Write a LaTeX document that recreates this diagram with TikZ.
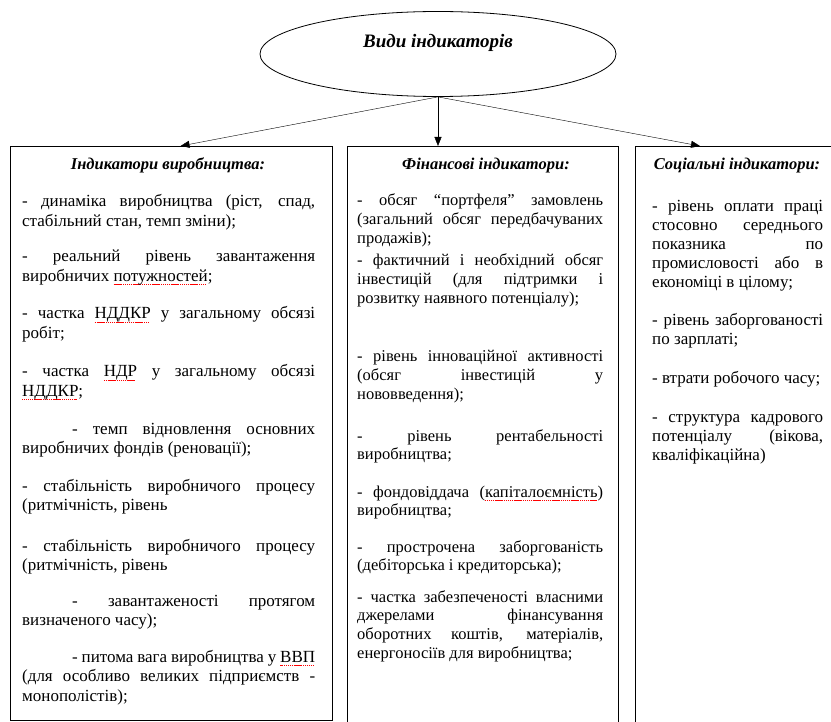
\documentclass[tikz,border=0pt]{standalone}
\usepackage{fontspec}
\setmainfont{Liberation Serif}
\usepackage{xcolor}
\usepackage{tikz}
\usetikzlibrary{shapes.geometric, arrows.meta}

% red spell-check underline
\newsavebox\typobox
\newcommand\typo[1]{\sbox\typobox{#1}\leavevmode\rlap{\textcolor{red}{\leaders\hbox{\rule[-3.5pt]{1.3pt}{0.8pt}\kern0.6pt}\hskip\wd\typobox}}\usebox\typobox}

\tikzset{
    panel/.style={draw, line width=1.1pt, anchor=north west, inner sep=0pt},
    oval/.style={draw, ellipse, line width=0.8pt, minimum width=356pt, minimum height=85pt},
    headtext/.style={font=\fontsize{16.5}{19}\selectfont\bfseries\itshape, anchor=base, inner sep=0pt},
    item/.style={anchor=base west, align=justify, inner sep=0pt},
    leftitem/.style={item, text width=293pt, font=\fontsize{17}{19.6}\selectfont},
    miditem/.style={item, text width=246pt, font=\fontsize{16.5}{18.7}\selectfont},
    rightitem/.style={item, text width=171pt, font=\fontsize{17}{19}\selectfont},
}

\begin{document}
\begin{tikzpicture}[x=1pt, y=-1pt, >={Triangle[length=9pt, width=7pt]}]
        \useasboundingbox (0,0) rectangle (831,722);

        \node[oval] at (438, 54) (kinds) {};
        \node[headtext, font=\fontsize{19}{22}\selectfont\bfseries\itshape] at (438, 48) (kindstxt) {Види індикаторів};

        \node[panel, minimum width=322pt, minimum height=574pt] at (10, 146) (prod) {};
        \node[panel, minimum width=271pt, minimum height=590pt] at (347, 146) (fin) {};
        \node[panel, minimum width=200pt, minimum height=590pt] at (635, 146) (soc) {};

        \draw[->] (kinds.south) -- ([xshift=9pt]prod.north);
        \draw[->] (kinds.south) -- (kinds.south |- fin.north);
        \draw[->] (kinds.south) -- ([xshift=65pt]soc.north west);

        % production
        \node[headtext] at (168, 170) (prodhead) {Індикатори виробництва:};
        \node[leftitem] at (22, 207) (p1) {- динаміка виробництва (ріст, спад,\linebreak стабільний стан, темп зміни);};
        \node[leftitem] at (22, 262) (p2) {- реальний рівень завантаження\linebreak виробничих \typo{потужностей};};
        \node[leftitem] at (22, 319) (p3) {- частка \typo{НДДКР} у загальному обсязі\linebreak робіт;};
        \node[leftitem] at (22, 377) (p4) {- частка \typo{НДР} у загальному обсязі\linebreak \typo{НДДКР};};
        \node[leftitem] at (22, 434) (p5) {\hspace*{50pt}- темп відновлення основних\linebreak виробничих фондів (реновації);};
        \node[leftitem] at (22, 491) (p6) {- стабільність виробничого процесу\linebreak (ритмічність, рівень};
        \node[leftitem] at (22, 551) (p7) {- стабільність виробничого процесу\linebreak (ритмічність, рівень};
        \node[leftitem] at (22, 606) (p8) {\hspace*{50pt}- завантаженості протягом\linebreak визначеного часу);};
        \node[leftitem] at (22, 662) (p9) {\hspace*{50pt}- питома вага виробництва у \typo{ВВП}\linebreak (для особливо великих підприємств -\linebreak монополістів);};

        % finance
        \node[headtext] at (486, 170) (finhead) {Фінансові індикатори:};
        \node[miditem] at (357, 206) (f1) {- обсяг “портфеля” замовлень\linebreak (загальний обсяг передбачуваних\linebreak продажів);};
        \node[miditem] at (357, 266) (f2) {- фактичний і необхідний обсяг\linebreak інвестицій (для підтримки і\linebreak розвитку наявного потенціалу);};
        \node[miditem] at (357, 362) (f3) {- рівень інноваційної активності\linebreak (обсяг інвестицій у\linebreak нововведення);};
        \node[miditem] at (357, 441) (f4) {- рівень рентабельності\linebreak виробництва;};
        \node[miditem] at (357, 497) (f5) {- фондовіддача (\typo{капіталоємність})\linebreak виробництва;};
        \node[miditem] at (357, 552) (f6) {- прострочена заборгованість\linebreak (дебіторська і кредиторська);};
        \node[miditem] at (357, 602) (f7) {- частка забезпеченості власними\linebreak джерелами фінансування\linebreak оборотних коштів, матеріалів,\linebreak енергоносіїв для виробництва;};

        % social
        \node[headtext] at (737, 170) (sochead) {Соціальні індикатори:};
        \node[rightitem] at (652, 212) (s1) {- рівень оплати праці\linebreak стосовно середнього\linebreak показника по\linebreak промисловості або в\linebreak економіці в цілому;};
        \node[rightitem] at (652, 326) (s2) {- рівень заборгованості\linebreak по зарплаті;};
        \node[rightitem] at (652, 384) (s3) {- втрати робочого часу;};
        \node[rightitem] at (652, 422) (s4) {- структура кадрового\linebreak потенціалу (вікова,\linebreak кваліфікаційна)};
    \end{tikzpicture}
\end{document}
